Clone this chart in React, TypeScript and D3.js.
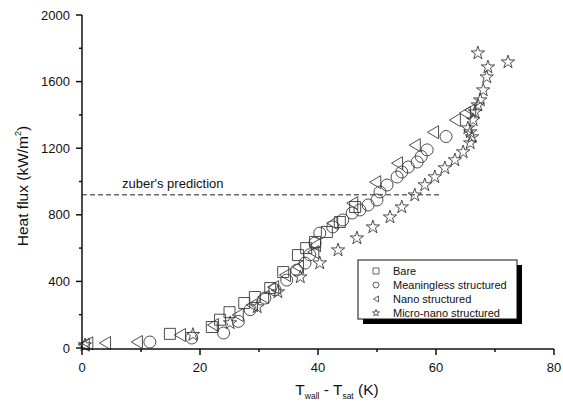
import React from "react";
import * as d3 from "d3";

const bare: [number, number][] = [
  [14.9, 85], [22.0, 126], [23.4, 170], [25.0, 215], [27.5, 270], [29.3, 306], [31.9, 360],
  [34.1, 456], [36.6, 558], [38.0, 600], [39.5, 637], [41.5, 697], [43.7, 757], [46.3, 847],
];
const meaningless: [number, number][] = [
  [11.5, 36], [18.6, 60], [24.0, 90], [26.5, 160], [28.5, 230], [31.0, 300], [32.7, 350],
  [34.7, 408], [36.4, 468], [37.8, 510], [38.6, 560], [39.5, 630], [40.3, 690], [42.5, 727],
  [44.2, 769], [45.8, 811], [47.1, 829], [48.5, 859], [50.0, 889], [50.5, 937], [51.7, 979],
  [53.4, 1027], [54.2, 1057], [55.3, 1087], [56.8, 1117], [57.5, 1150], [58.5, 1190], [61.7, 1270],
];
const nano: [number, number][] = [
  [0.3, 20], [0.9, 28], [3.9, 30], [9.3, 36], [16.6, 78], [22.2, 138], [26.4, 198], [28.8, 258],
  [30.7, 306], [32.4, 366], [34.4, 438], [36.6, 486], [39.2, 576], [39.5, 618], [42.4, 750],
  [45.8, 870], [49.7, 996], [53.4, 1110], [56.4, 1218], [59.5, 1296], [63.2, 1369], [64.9, 1411],
  [65.8, 1429],
];
const microNano: [number, number][] = [
  [0.5, 18], [18.8, 80], [25.1, 150], [29.7, 246], [33.2, 336], [37.0, 426], [40.3, 510],
  [43.4, 588], [46.6, 660], [49.3, 726], [52.2, 786], [54.2, 846], [56.4, 918], [58.1, 979],
  [59.8, 1027], [61.5, 1081], [63.2, 1129], [64.6, 1177], [65.8, 1231], [66.1, 1267], [65.8, 1297],
  [65.4, 1321], [66.3, 1369], [66.6, 1417], [67.1, 1459], [67.5, 1489], [68.0, 1549], [68.6, 1627],
  [68.8, 1687], [67.1, 1771], [72.2, 1717],
];
const zuber = 920;
const zuberEnd = 60.6;
const xTicks = [0, 20, 40, 60, 80];
const xMinor = [10, 30, 50, 70];
const yTicks = [0, 400, 800, 1200, 1600, 2000];
const yMinor = [200, 600, 1000, 1400, 1800];
const legendLabels = ["Bare", "Meaningless structured", "Nano structured", "Micro-nano structured"];

const x = d3.scaleLinear().domain([0, 80]).range([82, 554]);
const y = d3.scaleLinear().domain([0, 2000]).range([348, 15]);

const stroke = "#3a3a3a";
const font = "Liberation Sans, Arial, sans-serif";

function marker(kind: number, s: number): string {
  if (kind === 0) return d3.symbol(d3.symbolSquare, s * s)() as string;
  if (kind === 1) return d3.symbol(d3.symbolCircle, Math.PI * (s / 2) * (s / 2))() as string;
  if (kind === 2) {
    const h = s / 2;
    return `M${-h * 0.85},0L${h * 0.85},${-h}L${h * 0.85},${h}Z`;
  }
  return d3.symbol(d3.symbolStar, s * s * 0.42)() as string;
}

const series = [bare, meaningless, nano, microNano];
const sizes = [11, 12, 13, 11.5];

export default function App() {
  return (
    <svg width={563} height={403} style={{ position: "absolute", left: 0, top: 0, background: "#fff" }}>
      <rect width={563} height={403} fill="#fff" />
      <line x1={x(0)} x2={x(zuberEnd)} y1={y(zuber)} y2={y(zuber)} stroke="#222" strokeWidth={1} strokeDasharray="5,3" />
      <text x={122} y={188} fontFamily={font} fontSize={13} fill="#111">zuber's prediction</text>
      {series.map((data, k) => (
        <g key={k}>
          {data.map((d, i) => (
            <path key={i} d={marker(k, sizes[k])} transform={`translate(${x(d[0])},${y(d[1])})`} fill="none" stroke={stroke} strokeWidth={0.9} />
          ))}
        </g>
      ))}
      <line x1={x(0)} x2={x(80)} y1={349} y2={349} stroke="#111" strokeWidth={1.5} />
      <line x1={x(0)} x2={x(0)} y1={y(0) + 1} y2={y(2000)} stroke="#111" strokeWidth={1.5} />
      {xTicks.map((t) => (
        <g key={t}>
          <line x1={x(t)} x2={x(t)} y1={349} y2={355} stroke="#111" strokeWidth={1.5} />
          <text x={x(t)} y={372} textAnchor="middle" fontFamily={font} fontSize={13} fill="#111">{t}</text>
        </g>
      ))}
      {xMinor.map((t) => (
        <line key={t} x1={x(t)} x2={x(t)} y1={349} y2={352} stroke="#111" strokeWidth={1.5} />
      ))}
      {yTicks.map((t) => (
        <g key={t}>
          <line x1={x(0) - 6} x2={x(0)} y1={y(t)} y2={y(t)} stroke="#111" strokeWidth={1.5} />
          <text x={70} y={y(t) + 4.5} textAnchor="end" fontFamily={font} fontSize={13} fill="#111">{t}</text>
        </g>
      ))}
      {yMinor.map((t) => (
        <line key={t} x1={x(0) - 3} x2={x(0)} y1={y(t)} y2={y(t)} stroke="#111" strokeWidth={1.5} />
      ))}
      <text transform="translate(28,186) rotate(-90)" textAnchor="middle" fontFamily={font} fontSize={15.5} fill="#111">
        Heat flux (kW/m<tspan dy={-7} fontSize={9}>2</tspan><tspan dy={7}>)</tspan>
      </text>
      <text x={337} y={395} textAnchor="middle" fontFamily={font} fontSize={15.5} fill="#111">
        T<tspan dy={4} fontSize={8.5}>wall</tspan><tspan dy={-4}> - T</tspan><tspan dy={4} fontSize={8.5}>sat</tspan><tspan dy={-4}> (K)</tspan>
      </text>
      <rect x={363} y={265} width={159} height={59} fill="#000" />
      <rect x={358} y={260} width={159} height={59} fill="#fff" stroke="#111" strokeWidth={1} />
      {legendLabels.map((l, i) => (
        <g key={l}>
          <path d={marker(i, 6)} transform={`translate(376,${271 + i * 14})`} fill="none" stroke={stroke} strokeWidth={0.8} />
          <text x={393} y={275 + i * 14} fontFamily={font} fontSize={11} fill="#111">{l}</text>
        </g>
      ))}
    </svg>
  );
}
